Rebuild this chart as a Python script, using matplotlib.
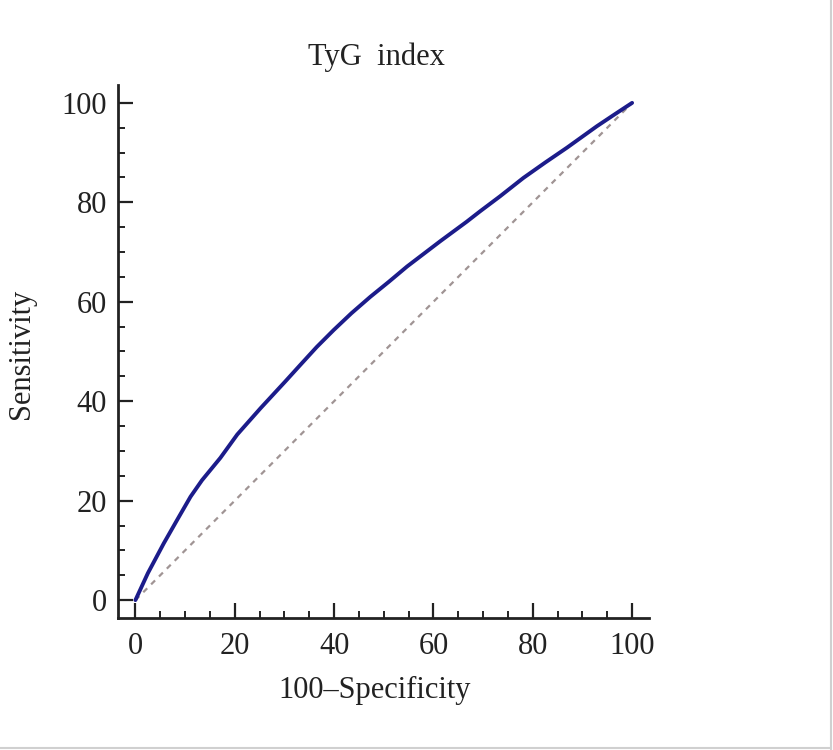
import numpy as np
import matplotlib
matplotlib.use("Agg")
import matplotlib.pyplot as plt
from matplotlib.ticker import MultipleLocator
from matplotlib.lines import Line2D

# ROC curve (100-Specificity, Sensitivity)
fpr = [0, 2.5, 5.7, 8.5, 11.1, 13.4, 17.1, 20.5, 25.2, 30.2, 33.2, 36.5,
       39.9, 43.5, 47.3, 51.0, 54.7, 61.4, 66.7, 69.4, 73.4, 78.1, 82.5,
       86.9, 92.9, 96.5, 100]
tpr = [0, 5.4, 11.4, 16.3, 20.8, 24.1, 28.6, 33.3, 38.6, 44.0, 47.3, 50.9,
       54.3, 57.7, 61.0, 64.0, 67.1, 72.2, 76.1, 78.2, 81.2, 84.9, 88.0,
       91.0, 95.3, 97.7, 100]
diag = [0, 100]

title = "TyG  index"
xlabel = "100\u2013Specificity"
ylabel = "Sensitivity"

plt.rcParams['font.family'] = ['Liberation Serif', 'DejaVu Serif']

fig = plt.figure(figsize=(8.33, 7.5), dpi=100)
ax = fig.add_axes([0.1417, 0.176, 0.638, 0.7107])

ax.plot(diag, diag, color='#a09494', lw=1.6, linestyle=(0, (2.5, 2.5)))
ax.plot(fpr, tpr, color='#1c1c8a', lw=2.8, solid_capstyle='round',
        solid_joinstyle='round')

ax.set_xlim(-3.5, 103.5)
ax.set_ylim(-3.6, 103.6)
ax.spines['right'].set_color('none')
ax.spines['top'].set_color('none')
for s in ['left', 'bottom']:
    ax.spines[s].set_linewidth(2.0)
    ax.spines[s].set_color('#222222')

ax.xaxis.set_major_locator(MultipleLocator(20))
ax.xaxis.set_minor_locator(MultipleLocator(5))
ax.yaxis.set_major_locator(MultipleLocator(20))
ax.yaxis.set_minor_locator(MultipleLocator(5))
ax.tick_params(which='major', direction='in', length=11, width=1.6,
               color='#222222', labelsize=22, labelcolor='#222222')
ax.tick_params(which='minor', direction='in', length=5, width=1.4,
               color='#222222')
ax.tick_params(axis='x', which='major', pad=10)
ax.tick_params(axis='y', which='major', pad=8)

fig.text(376 / 833, 1 - 57 / 750, title, ha='center', va='center',
         fontsize=22, color='#222222')
fig.text(375 / 833, 1 - 690 / 750, xlabel, ha='center', va='center',
         fontsize=22, color='#222222')
fig.text(22 / 833, 1 - 354 / 750, ylabel, ha='center', va='center',
         rotation=90, fontsize=22, color='#222222')

# light frame on the right and bottom edges
fig.lines.append(Line2D([0.998, 0.998], [0.002, 1], transform=fig.transFigure,
                        color='#d0d0d0', lw=1.5))
fig.lines.append(Line2D([0, 0.998], [0.003, 0.003], transform=fig.transFigure,
                        color='#d0d0d0', lw=1.5))

fig.savefig('out.png', dpi=100)
